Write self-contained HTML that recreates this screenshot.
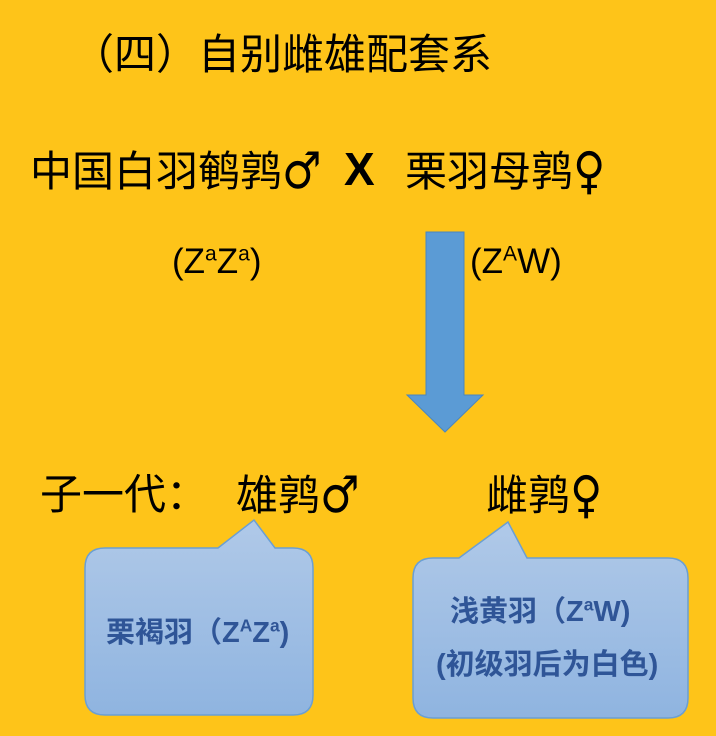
<!DOCTYPE html>
<html><head><meta charset="utf-8"><style>
body{margin:0;width:716px;height:736px;background:#fec419;position:relative;overflow:hidden;font-family:"Liberation Sans","Noto Sans CJK SC",sans-serif;color:#000}
.t{position:absolute;white-space:nowrap;line-height:1}
.b{font-weight:bold;color:#2f5597}
sup{font-size:0.6em;vertical-align:0.6em;line-height:0}
.s{font-family:"DejaVu Sans",sans-serif;font-size:1.05em;display:inline-block;transform:scaleY(1.15)}
</style></head><body>
<div class="t" style="left:72px;top:34px;font-size:42px">（四）自别雌雄配套系</div>
<div class="t" style="left:30px;top:150px;font-size:42px">中国白羽鹌鹑<span class="s">♂</span></div>
<div class="t" style="left:344px;top:146px;font-size:46px;font-weight:bold">X</div>
<div class="t" style="left:405px;top:150px;font-size:42px">栗羽母鹑<span class="s">♀</span></div>
<div class="t" style="left:172px;top:244px;font-size:35px">(Z<sup>a</sup>Z<sup>a</sup>)</div>
<div class="t" style="left:470px;top:244px;font-size:35px">(Z<sup>A</sup>W)</div>
<svg style="position:absolute;left:0;top:0" width="716" height="736">
<defs><linearGradient id="g" x1="0" y1="0" x2="0" y2="1"><stop offset="0" stop-color="#b0c9e8"/><stop offset="1" stop-color="#8fb4e0"/></linearGradient></defs>
<polygon points="426,232 464,232 464,395 483,395 445,432 407,395 426,395" fill="#5b9bd5" stroke="#4a86c0" stroke-width="1"/>
<path d="M105,548 L218,548 L254,520 L275,548 L293,548 Q313,548 313,568 L313,695 Q313,715 293,715 L105,715 Q85,715 85,695 L85,568 Q85,548 105,548 Z" fill="url(#g)" stroke="#6a9fd4" stroke-width="1.5"/>
<path d="M433,558 L459,558 L508,522 L527,558 L668,558 Q688,558 688,578 L688,698 Q688,718 668,718 L433,718 Q413,718 413,698 L413,578 Q413,558 433,558 Z" fill="url(#g)" stroke="#6a9fd4" stroke-width="1.5"/>
</svg>
<div class="t" style="left:40px;top:474px;font-size:42px">子一代：</div>
<div class="t" style="left:236px;top:474px;font-size:42px">雄鹑<span class="s">♂</span></div>
<div class="t" style="left:486px;top:474px;font-size:42px">雌鹑<span class="s">♀</span></div>
<div class="t b" style="left:106px;top:619px;font-size:29px">栗褐羽（Z<sup>A</sup>Z<sup>a</sup>)</div>
<div class="t b" style="left:450px;top:598px;font-size:29px">浅黄羽（Z<sup>a</sup>W)</div>
<div class="t b" style="left:436px;top:651px;font-size:29px">(初级羽后为白色)</div>
</body></html>
